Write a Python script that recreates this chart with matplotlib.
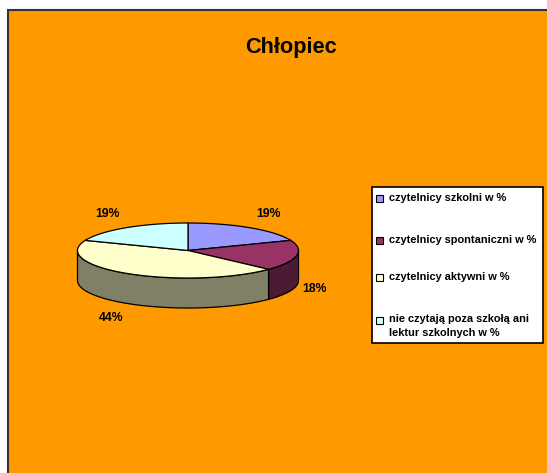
import matplotlib.pyplot as plt
import numpy as np
from matplotlib.patches import Rectangle, Polygon

plt.rcParams['font.family'] = ['Liberation Sans', 'DejaVu Sans']

title  = 'Chłopiec'
labels = ['czytelnicy szkolni w %',
          'czytelnicy spontaniczni w %',
          'czytelnicy aktywni w %',
          'nie czytają poza szkołą ani\nlektur szkolnych w %']
values = [19, 18, 44, 19]
tops   = ['#9999FF', '#993366', '#FFFFCC', '#CCFFFF']
sides  = ['#4D4D80', '#4D1A33', '#808066', '#668080']

W, H = 547, 473
fig = plt.figure(figsize=(W / 100, H / 100), dpi=100)
fig.patch.set_facecolor('#FF9900')
ax = fig.add_axes([0, 0, 1, 1])
ax.set_xlim(0, W)
ax.set_ylim(H, 0)
ax.axis('off')

# white margin on top and left, orange chart area fills the rest
ax.add_patch(Rectangle((0, 0), W, 10.5, facecolor='white', edgecolor='none'))
ax.add_patch(Rectangle((0, 0), 7.5, H, facecolor='white', edgecolor='none'))
ax.plot([7.5, 7.5, W], [H, 10.5, 10.5], color='#333333', lw=1.5,
        solid_joinstyle='miter')
ax.text(291, 48, title, ha='center', va='center', fontsize=15.7, fontweight='bold')

# 3d pie geometry
cx, cy, a, b, d = 188, 250.5, 110.5, 27.5, 30

def ell(t):
    return cx + a * np.cos(t), cy - b * np.sin(t)

fr = np.array(values) / sum(values)
bounds = np.pi / 2 - 2 * np.pi * np.concatenate([[0], np.cumsum(fr)])

# side walls (front half only)
for i in range(len(values)):
    t1, t2 = bounds[i + 1], bounds[i]
    lo, hi = max(t1, -np.pi), min(t2, 0)
    if t1 < -np.pi and t2 <= -np.pi:
        lo, hi = max(t1 + 2 * np.pi, -np.pi), min(t2 + 2 * np.pi, 0)
    if hi <= lo:
        continue
    t = np.linspace(lo, hi, 80)
    x, y = ell(t)
    pts = np.column_stack([np.r_[x, x[::-1]], np.r_[y, y[::-1] + d]])
    ax.add_patch(Polygon(pts, closed=True, facecolor=sides[i], edgecolor='black', lw=0.9))

# top faces
for i in range(len(values)):
    t = np.linspace(bounds[i], bounds[i + 1], 120)
    x, y = ell(t)
    pts = np.column_stack([np.r_[cx, x], np.r_[cy, y]])
    ax.add_patch(Polygon(pts, closed=True, facecolor=tops[i], edgecolor='black', lw=0.9))

# percent labels
for i, v in enumerate(values):
    m = (bounds[i] + bounds[i + 1]) / 2
    lx = cx + a * np.cos(m) + 18 * np.sign(np.cos(m))
    ly = cy - (b + 17) * np.sin(m) + (d if np.sin(m) < 0 else 0)
    ax.text(lx, ly, f'{v}%', ha='center', va='center', fontsize=8.8, fontweight='bold')

# legend
ax.add_patch(Rectangle((372, 187), 171, 156, facecolor='white', edgecolor='black', lw=1.2))
ly_list = [198, 240, 277, 320]
for i, lab in enumerate(labels):
    yy = ly_list[i]
    ax.add_patch(Rectangle((376, yy - 3.5), 7, 7, facecolor=tops[i], edgecolor='black', lw=0.8))
    if '\n' in lab:
        ax.text(389, yy - 6.5, lab, ha='left', va='top', fontsize=7.9, fontweight='bold',
                linespacing=1.55)
    else:
        ax.text(389, yy, lab, ha='left', va='center', fontsize=7.9, fontweight='bold')

fig.savefig('out.png', dpi=100, facecolor=fig.get_facecolor())
